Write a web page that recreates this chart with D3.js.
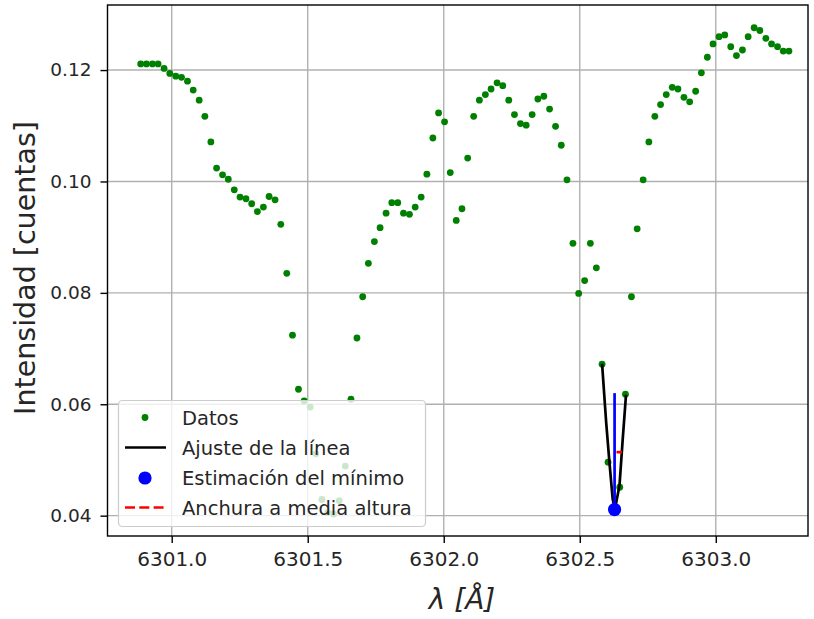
<!DOCTYPE html>
<html>
<head>
<meta charset="utf-8">
<script src="https://cdn.jsdelivr.net/npm/d3@7"></script>
<style>
  body { margin: 0; background: #fff; }
  text { font-family: "DejaVu Sans", sans-serif; fill: #262626; }
</style>
</head>
<body>
<svg id="chart" width="814" height="619"></svg>
<script>
// wavelengths (Å) of the observed samples
var lambda = [
  6300.886, 6300.907, 6300.929, 6300.950, 6300.972, 6300.993, 6301.015, 6301.036, 6301.058, 6301.079,
  6301.101, 6301.122, 6301.144, 6301.165, 6301.187, 6301.208, 6301.230, 6301.251, 6301.273, 6301.294,
  6301.315, 6301.337, 6301.358, 6301.380, 6301.401, 6301.423, 6301.444, 6301.466, 6301.487, 6301.509,
  6301.530, 6301.552, 6301.573, 6301.595, 6301.616, 6301.638, 6301.659, 6301.681, 6301.702, 6301.723,
  6301.745, 6301.766, 6301.788, 6301.809, 6301.831, 6301.852, 6301.874, 6301.895, 6301.917, 6301.938,
  6301.960, 6301.981, 6302.003, 6302.024, 6302.046, 6302.067, 6302.088, 6302.110, 6302.131, 6302.153,
  6302.174, 6302.196, 6302.217, 6302.239, 6302.260, 6302.282, 6302.303, 6302.325, 6302.346, 6302.368,
  6302.389, 6302.411, 6302.432, 6302.453, 6302.475, 6302.496, 6302.518, 6302.539, 6302.561, 6302.582,
  6302.604, 6302.625, 6302.647, 6302.668, 6302.690, 6302.711, 6302.733, 6302.754, 6302.776, 6302.797,
  6302.818, 6302.840, 6302.861, 6302.883, 6302.904, 6302.926, 6302.947, 6302.969, 6302.990, 6303.012,
  6303.033, 6303.055, 6303.076, 6303.098, 6303.119, 6303.141, 6303.162, 6303.184, 6303.205, 6303.227,
  6303.248, 6303.269
];

// intensity (cuentas)
var intensity = [
  0.1211, 0.1211, 0.1211, 0.1211, 0.1203, 0.1194, 0.1189, 0.1187, 0.1180, 0.1164,
  0.1146, 0.1117, 0.1071, 0.1024, 0.1012, 0.1004, 0.0985, 0.0972, 0.0969, 0.0960,
  0.0946, 0.0954, 0.0973, 0.0967, 0.0923, 0.0835, 0.0724, 0.0627, 0.0606, 0.0595,
  0.0511, 0.0429, 0.0406, 0.0403, 0.0427, 0.0489, 0.0609, 0.0719, 0.0793, 0.0853,
  0.0892, 0.0917, 0.0943, 0.0962, 0.0962, 0.0943, 0.0941, 0.0954, 0.0972, 0.1013,
  0.1078, 0.1123, 0.1107, 0.1016, 0.0930, 0.0951, 0.1042, 0.1117, 0.1146, 0.1156,
  0.1166, 0.1177, 0.1172, 0.1146, 0.1120, 0.1104, 0.1101, 0.1120, 0.1148, 0.1153,
  0.1130, 0.1099, 0.1065, 0.1003, 0.0889, 0.0799, 0.0822, 0.0889, 0.0845, 0.0672,
  0.0496, 0.0412, 0.0451, 0.0618, 0.0793, 0.0915, 0.1003, 0.1071, 0.1117, 0.1138,
  0.1156, 0.1169, 0.1166, 0.1151, 0.1143, 0.1162, 0.1195, 0.1223, 0.1247, 0.1260,
  0.1263, 0.1242, 0.1226, 0.1236, 0.1260, 0.1276, 0.1271, 0.1257, 0.1247, 0.1242,
  0.1234, 0.1234
];

// line fit around the second minimum
var fitLambda = [6302.582, 6302.597, 6302.609, 6302.621, 6302.629, 6302.646, 6302.658, 6302.670];
var fitIntensity = [0.0673, 0.0568, 0.0496, 0.0430, 0.0411, 0.0454, 0.0538, 0.0617];

var minLambda = 6302.628;
var minIntensity = 0.0411;
var depthTop = 0.0620;
var halfWidthLambda = [6302.635, 6302.655];
var halfWidthIntensity = 0.0514;

var xTicks = [6301.0, 6301.5, 6302.0, 6302.5, 6303.0];
var yTicks = [0.04, 0.06, 0.08, 0.10, 0.12];

var legendLabels = ["Datos", "Ajuste de la línea", "Estimación del mínimo", "Anchura a media altura"];

var svg = d3.select("#chart");

var plotLeft = 107.5, plotRight = 808, plotTop = 5, plotBottom = 536;

var x = d3.scaleLinear()
  .domain([6300.764, 6303.339])
  .range([plotLeft, plotRight]);

var y = d3.scaleLinear()
  .domain([0.03635, 0.13168])
  .range([plotBottom, plotTop]);

svg.append("defs").append("clipPath")
  .attr("id", "plotArea")
  .append("rect")
  .attr("x", plotLeft).attr("y", plotTop)
  .attr("width", plotRight - plotLeft).attr("height", plotBottom - plotTop);

// grid
var grid = svg.append("g");
grid.selectAll(".gx")
  .data(xTicks)
  .enter()
  .append("line")
  .attr("x1", d => x(d)).attr("x2", d => x(d))
  .attr("y1", plotTop).attr("y2", plotBottom)
  .attr("stroke", "#b0b0b0")
  .attr("stroke-width", 1.4);
grid.selectAll(".gy")
  .data(yTicks)
  .enter()
  .append("line")
  .attr("y1", d => y(d)).attr("y2", d => y(d))
  .attr("x1", plotLeft).attr("x2", plotRight)
  .attr("stroke", "#b0b0b0")
  .attr("stroke-width", 1.4);

var plot = svg.append("g").attr("clip-path", "url(#plotArea)");

var points = lambda.map((l, i) => ({ l: l, v: intensity[i] }));

plot.selectAll("circle.dato")
  .data(points)
  .enter()
  .append("circle")
  .attr("class", "dato")
  .attr("cx", d => x(d.l))
  .attr("cy", d => y(d.v))
  .attr("r", 3.4)
  .attr("fill", "green");

var fitLine = d3.line()
  .x(d => x(d[0]))
  .y(d => y(d[1]));

plot.append("path")
  .datum(fitLambda.map((l, i) => [l, fitIntensity[i]]))
  .attr("d", fitLine)
  .attr("fill", "none")
  .attr("stroke", "black")
  .attr("stroke-width", 2.7)
  .attr("stroke-linejoin", "round");

plot.append("line")
  .attr("x1", x(minLambda)).attr("x2", x(minLambda))
  .attr("y1", y(minIntensity)).attr("y2", y(depthTop))
  .attr("stroke", "blue")
  .attr("stroke-width", 2.7);

plot.append("line")
  .attr("x1", x(halfWidthLambda[0])).attr("x2", x(halfWidthLambda[1]))
  .attr("y1", y(halfWidthIntensity)).attr("y2", y(halfWidthIntensity))
  .attr("stroke", "red")
  .attr("stroke-width", 2.7)
  .attr("stroke-dasharray", "10,4.3");

plot.append("circle")
  .attr("cx", x(minLambda))
  .attr("cy", y(minIntensity))
  .attr("r", 6.6)
  .attr("fill", "blue");

// legend
var lg = svg.append("g");
lg.append("rect")
  .attr("x", 118.5).attr("y", 400.5)
  .attr("width", 307).attr("height", 126)
  .attr("rx", 4)
  .attr("fill", "white")
  .attr("fill-opacity", 0.8)
  .attr("stroke", "#cccccc")
  .attr("stroke-width", 1.2);

var rowY = [417.5, 447.5, 478, 507.5];

lg.append("circle").attr("cx", 145).attr("cy", rowY[0]).attr("r", 3.4).attr("fill", "green");
lg.append("line").attr("x1", 125).attr("x2", 166).attr("y1", rowY[1]).attr("y2", rowY[1])
  .attr("stroke", "black").attr("stroke-width", 2.7);
lg.append("circle").attr("cx", 145).attr("cy", rowY[2]).attr("r", 6.6).attr("fill", "blue");
lg.append("line").attr("x1", 125).attr("x2", 166).attr("y1", rowY[3]).attr("y2", rowY[3])
  .attr("stroke", "red").attr("stroke-width", 2.7).attr("stroke-dasharray", "10,4.3");

lg.selectAll("text")
  .data(legendLabels)
  .enter()
  .append("text")
  .attr("x", 182)
  .attr("y", (d, i) => rowY[i])
  .attr("dy", "0.36em")
  .style("font-size", "19.5px")
  .text(d => d);

// spines
svg.append("rect")
  .attr("x", plotLeft).attr("y", plotTop)
  .attr("width", plotRight - plotLeft).attr("height", plotBottom - plotTop)
  .attr("fill", "none")
  .attr("stroke", "black")
  .attr("stroke-width", 1.4);

// axes
var xAxis = svg.append("g")
  .attr("transform", `translate(0, ${plotBottom})`)
  .call(d3.axisBottom(x).tickValues(xTicks).tickFormat(d3.format(".1f")).tickSize(7).tickPadding(9));
var yAxis = svg.append("g")
  .attr("transform", `translate(${plotLeft}, 0)`)
  .call(d3.axisLeft(y).tickValues(yTicks).tickFormat(d3.format(".2f")).tickSize(7).tickPadding(9));

[xAxis, yAxis].forEach(function(a) {
  a.select(".domain").remove();
  a.selectAll(".tick line").attr("stroke", "black").attr("stroke-width", 1.4);
  a.selectAll(".tick text").attr("fill", "#262626").style("font-family", "DejaVu Sans");
});
xAxis.selectAll(".tick text").style("font-size", "20px");
yAxis.selectAll(".tick text").style("font-size", "18.5px");

// axis titles
svg.append("text")
  .attr("x", 462)
  .attr("y", 609)
  .attr("text-anchor", "middle")
  .style("font-size", "28px")
  .style("font-style", "italic")
  .text("λ [Å]");

svg.append("text")
  .attr("transform", "translate(35, 268) rotate(-90)")
  .attr("text-anchor", "middle")
  .style("font-size", "28.5px")
  .text("Intensidad [cuentas]");
</script>
</body>
</html>
